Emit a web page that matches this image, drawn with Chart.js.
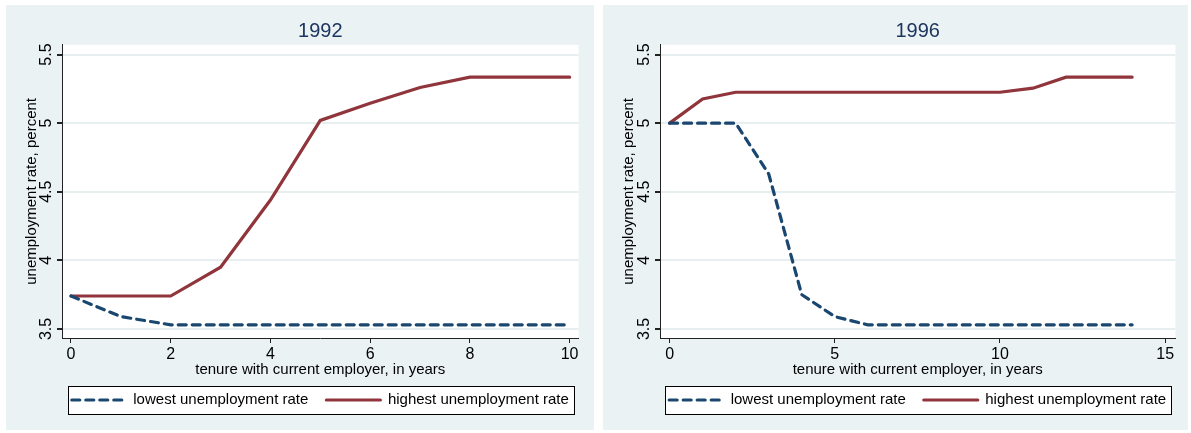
<!DOCTYPE html>
<html>
<head>
<meta charset="utf-8">
<title>Unemployment rate by tenure</title>
<script src="https://cdn.jsdelivr.net/npm/chart.js@4"></script>
<style>
    body { margin: 0; background: #fff; width: 1191px; height: 433px; position: relative; overflow: hidden; }
    .panel { position: absolute; top: 5px; height: 425px; background: #eaf2f3; }
    .panel canvas { display: block; }
    #panel1992 { left: 6px; width: 588px; }
    #panel1996 { left: 603px; width: 585px; }
</style>
</head>
<body>
<div class="panel" id="panel1992"><canvas id="chart1992" width="588" height="425"></canvas></div>
<div class="panel" id="panel1996"><canvas id="chart1996" width="585" height="425"></canvas></div>
<script>
// Data
const tenure1992 = [0, 1, 2, 3, 4, 5, 6, 7, 8, 9, 10];
const lowest1992 = [3.74, 3.59, 3.53, 3.53, 3.53, 3.53, 3.53, 3.53, 3.53, 3.53, 3.53];
const highest1992 = [3.74, 3.74, 3.74, 3.95, 4.44, 5.02, 5.145, 5.26, 5.335, 5.335, 5.335];

const tenure1996 = [0, 1, 2, 3, 4, 5, 6, 7, 8, 9, 10, 11, 12, 13, 14];
const lowest1996 = [5.0, 5.0, 5.0, 4.63, 3.75, 3.59, 3.53, 3.53, 3.53, 3.53, 3.53, 3.53, 3.53, 3.53, 3.53];
const highest1996 = [5.0, 5.176, 5.225, 5.225, 5.225, 5.225, 5.225, 5.225, 5.225, 5.225, 5.225, 5.255, 5.335, 5.335, 5.335];

const yTicks = [3.5, 4, 4.5, 5, 5.5];
const yTickLabels = ['3.5', '4', '4.5', '5', '5.5'];
const xTicks1992 = [0, 2, 4, 6, 8, 10];
const xTicks1996 = [0, 5, 10, 15];

const seriesLabels = ['lowest unemployment rate', 'highest unemployment rate'];

const BLUE = '#1a476f';
const RED = '#90353b';
const NAVY = '#1e3560';
const AXIS = '#222';
const GRID = '#e6eeef';
const FONT = '"Liberation Sans", Arial, sans-serif';

Chart.defaults.font.family = FONT;
Chart.defaults.color = '#000';

// white plot region
const plotBackground = {
    id: 'plotBackground',
    beforeDraw(chart) {
        const { ctx, chartArea: a } = chart;
        ctx.save();
        ctx.fillStyle = '#fff';
        ctx.fillRect(a.left, a.top, a.right - a.left, a.bottom - a.top);
        ctx.restore();
    }
};

// boxed legend like Stata
const legendFrame = {
    id: 'legendFrame',
    beforeDraw(chart) {
        const boxes = chart.legend && chart.legend.legendHitBoxes;
        if (!boxes || !boxes.length) return;
        const left = Math.min(...boxes.map(b => b.left)) - 4;
        const right = Math.max(...boxes.map(b => b.left + b.width)) + 5;
        const top = boxes[0].top - 6.5;
        const bottom = boxes[0].top + boxes[0].height + 6.5;
        const ctx = chart.ctx;
        ctx.save();
        ctx.fillStyle = '#fff';
        ctx.fillRect(left, top, right - left, bottom - top);
        ctx.strokeStyle = '#000';
        ctx.lineWidth = 1;
        ctx.strokeRect(Math.round(left) + 0.5, Math.round(top) + 0.5, Math.round(right - left), Math.round(bottom - top));
        ctx.restore();
    }
};

// legend samples: take dash/width from the dataset line, not the point
function legendLabels(chart) {
    const items = Chart.defaults.plugins.legend.labels.generateLabels(chart);
    items.forEach((item, i) => {
        const ds = chart.data.datasets[item.datasetIndex];
        item.lineDash = ds.borderDash || [];
        item.lineWidth = ds.borderWidth;
        item.lineCap = ds.borderCapStyle;
        item.strokeStyle = ds.borderColor;
        // gap between the two entries
        if (i < items.length - 1) item.text = item.text + '   ';
    });
    return items;
}

function toPoints(xs, ys) {
    return xs.map((x, i) => ({ x: x, y: ys[i] }));
}

function makeChart(canvasId, year, tenure, lowest, highest, xMin, xMax, xTicks, yWidth, rightPad) {
    return new Chart(document.getElementById(canvasId), {
        type: 'line',
        data: {
            datasets: [{
                label: seriesLabels[0],
                data: toPoints(tenure, lowest),
                borderColor: BLUE,
                backgroundColor: BLUE,
                borderWidth: 3.2,
                borderDash: [8, 6],
                borderCapStyle: 'round',
                pointRadius: 0,
                tension: 0
            }, {
                label: seriesLabels[1],
                data: toPoints(tenure, highest),
                borderColor: RED,
                backgroundColor: RED,
                borderWidth: 3.2,
                borderCapStyle: 'round',
                pointRadius: 0,
                tension: 0
            }]
        },
        options: {
            responsive: false,
            animation: false,
            layout: { padding: { left: 0, right: rightPad, top: 0, bottom: 12.5 } },
            plugins: {
                title: {
                    display: true,
                    text: year,
                    fullSize: false,
                    color: NAVY,
                    font: { size: 20, weight: 'normal' },
                    padding: { top: 14.4, bottom: 1.4 }
                },
                legend: {
                    position: 'bottom',
                    fullSize: false,
                    labels: {
                        usePointStyle: true,
                        pointStyle: 'line',
                        pointStyleWidth: 54,
                        padding: 5.5,
                        color: '#000',
                        font: { size: 15 },
                        generateLabels: legendLabels
                    }
                },
                tooltip: { enabled: false }
            },
            scales: {
                x: {
                    type: 'linear',
                    min: xMin,
                    max: xMax,
                    afterBuildTicks: s => { s.ticks = xTicks.map(v => ({ value: v })); },
                    afterFit: s => { s.height = 49; },
                    grid: { drawOnChartArea: false, tickLength: 5, tickColor: AXIS },
                    border: { color: AXIS, width: 1 },
                    ticks: { font: { size: 16 }, color: '#000', padding: 2, maxRotation: 0 },
                    title: {
                        display: true,
                        text: 'tenure with current employer, in years',
                        font: { size: 15 },
                        color: '#000',
                        padding: { top: 0, bottom: 8 }
                    }
                },
                y: {
                    min: 3.434,
                    max: 5.571,
                    afterBuildTicks: s => { s.ticks = yTicks.map(v => ({ value: v })); },
                    afterFit: s => { s.width = yWidth; },
                    grid: { color: GRID, lineWidth: 2, tickColor: AXIS, tickLength: 5 },
                    border: { color: AXIS, width: 1 },
                    ticks: {
                        font: { size: 16 },
                        color: '#000',
                        minRotation: 90,
                        maxRotation: 90,
                        crossAlign: 'center',
                        padding: -1,
                        callback: v => yTickLabels[yTicks.indexOf(v)]
                    },
                    title: {
                        display: true,
                        text: 'unemployment rate, percent',
                        font: { size: 15 },
                        color: '#000',
                        padding: { top: 17, bottom: 0 }
                    }
                }
            }
        },
        plugins: [plotBackground, legendFrame]
    });
}

makeChart('chart1992', '1992', tenure1992, lowest1992, highest1992, -0.18, 10.18, xTicks1992, 56, 15.4);
makeChart('chart1996', '1996', tenure1996, lowest1996, highest1996, -0.29, 15.31, xTicks1996, 57, 12.6);
</script>
</body>
</html>
